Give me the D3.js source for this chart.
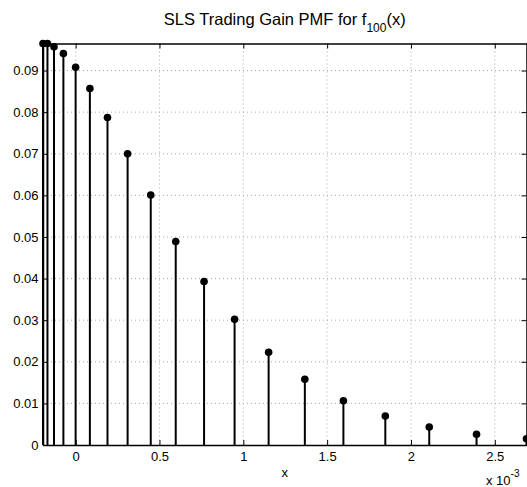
<!DOCTYPE html>
<html>
<head>
<meta charset="utf-8">
<script src="https://cdn.jsdelivr.net/npm/d3@7"></script>
<style>
  body { margin: 0; background: #fff; }
  text { font-family: "Liberation Sans", Arial, sans-serif; fill: #000; }
</style>
</head>
<body>
<div id="chart"></div>
<script>
// x values are in units of 1e-3 (axis shows "x 10^-3")
let gainX = [-0.1946, -0.168, -0.129, -0.073, 0.0, 0.085, 0.190, 0.310, 0.448, 0.597,
  0.766, 0.948, 1.151, 1.367, 1.597, 1.847, 2.109, 2.391, 2.689];
let pmf = [0.0965, 0.0965, 0.0957, 0.0941, 0.0908, 0.0857, 0.0787, 0.0700, 0.0601, 0.0489,
  0.0393, 0.0302, 0.0223, 0.0158, 0.01065, 0.00697, 0.00433, 0.00257, 0.0015];
let xTicks = [0, 0.5, 1, 1.5, 2, 2.5];
let yTicks = [0, 0.01, 0.02, 0.03, 0.04, 0.05, 0.06, 0.07, 0.08, 0.09];

let width = 527, height = 487;
let plotL = 43, plotR = 526.5, plotT = 43.5, plotB = 445;

let svg = d3.select("#chart").append("svg")
  .attr("width", width)
  .attr("height", height);

let x = d3.scaleLinear().domain([d3.min(gainX), d3.max(gainX)]).range([plotL, plotR]);
let y = d3.scaleLinear().domain([0, d3.max(pmf)]).range([plotB, plotT]);

// grid
xTicks.forEach(t =>
  svg.append("line")
    .attr("x1", x(t)).attr("x2", x(t))
    .attr("y1", plotT).attr("y2", plotB)
    .attr("stroke", "#aaa").attr("stroke-width", 1)
    .attr("stroke-dasharray", "1,3")
);
yTicks.filter(t => t > 0).forEach(t =>
  svg.append("line")
    .attr("x1", plotL).attr("x2", plotR)
    .attr("y1", y(t)).attr("y2", y(t))
    .attr("stroke", "#aaa").attr("stroke-width", 1)
    .attr("stroke-dasharray", "1,3")
);

// axes with inward ticks
let xAxis = svg.append("g")
  .attr("transform", `translate(0,${plotB})`)
  .call(d3.axisBottom(x).tickValues(xTicks).tickSizeInner(-5).tickSizeOuter(0).tickPadding(7)
    .tickFormat(d => d));
let xTop = svg.append("g")
  .attr("transform", `translate(0,${plotT})`)
  .call(d3.axisTop(x).tickValues(xTicks).tickSizeInner(-5).tickSizeOuter(0).tickFormat(""));
let yAxis = svg.append("g")
  .attr("transform", `translate(${plotL},0)`)
  .call(d3.axisLeft(y).tickValues(yTicks).tickSizeInner(-5).tickSizeOuter(0).tickPadding(4.5)
    .tickFormat(d => d === 0 ? "0" : d3.format(".2f")(d)));
let yRight = svg.append("g")
  .attr("transform", `translate(${plotR},0)`)
  .call(d3.axisRight(y).tickValues(yTicks).tickSizeInner(-5).tickSizeOuter(0).tickFormat(""));

[xAxis, xTop, yAxis, yRight].forEach(g => {
  g.select(".domain").attr("stroke", "#000").attr("stroke-width", 1.5);
  g.selectAll(".tick line").attr("stroke", "#000").attr("stroke-width", 1);
  g.selectAll(".tick text").attr("font-size", 13).attr("font-family", "Liberation Sans, Arial, sans-serif").attr("fill", "#000");
});

// stems
let stems = svg.append("g");
gainX.forEach((gx, i) => {
  stems.append("line")
    .attr("x1", x(gx)).attr("x2", x(gx))
    .attr("y1", y(0)).attr("y2", y(pmf[i]))
    .attr("stroke", "#000").attr("stroke-width", 2);
  stems.append("circle")
    .attr("cx", x(gx)).attr("cy", y(pmf[i]))
    .attr("r", 3.8).attr("fill", "#000");
});

// title
let title = svg.append("text")
  .attr("x", (plotL + plotR) / 2).attr("y", 25)
  .attr("text-anchor", "middle").attr("font-size", 16.5);
title.append("tspan").text("SLS Trading Gain PMF for f");
title.append("tspan").attr("dy", 7).attr("font-size", 12).text("100");
title.append("tspan").attr("dy", -7).text("(x)");

// axis label
svg.append("text")
  .attr("x", (plotL + plotR) / 2).attr("y", 477)
  .attr("text-anchor", "middle").attr("font-size", 13).text("x");

// exponent
let expo = svg.append("text")
  .attr("x", 486).attr("y", 485).attr("font-size", 13);
expo.append("tspan").text("x 10");
expo.append("tspan").attr("dy", -8).attr("font-size", 10).text("-3");
</script>
</body>
</html>
